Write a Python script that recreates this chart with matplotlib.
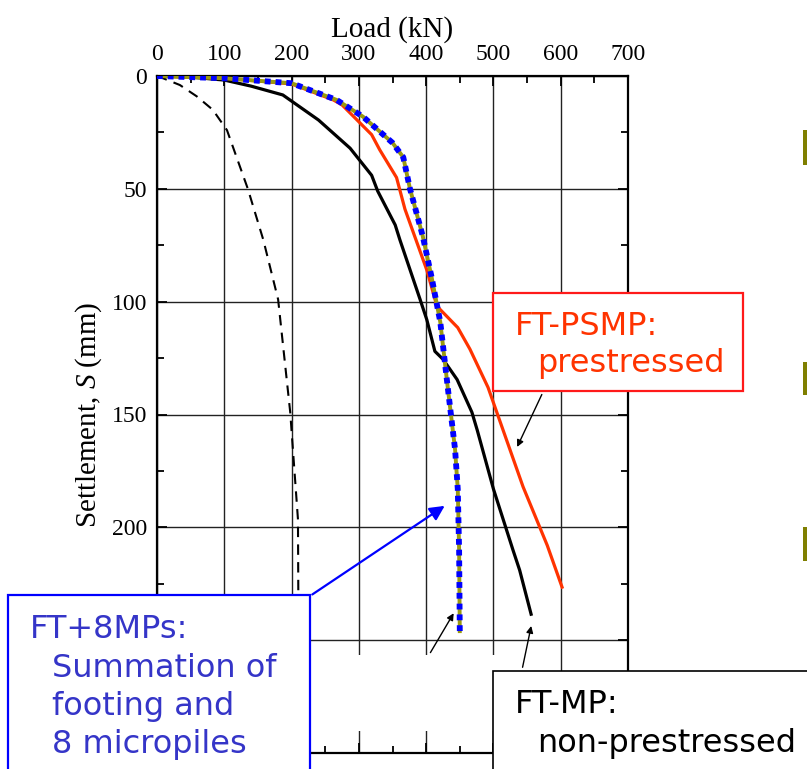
import matplotlib
matplotlib.use("Agg")
import matplotlib.pyplot as plt
from matplotlib.patches import Rectangle

plt.rcParams['font.family'] = ['Liberation Serif', 'DejaVu Serif']
plt.rcParams['mathtext.fontset'] = 'custom'
plt.rcParams['mathtext.rm'] = 'Liberation Serif'
plt.rcParams['mathtext.it'] = 'Liberation Serif:italic'

# ---- data (Load kN, Settlement mm) ----
load_ft_mp = [0, 50, 100, 140, 187, 240, 287, 319, 328, 354, 361, 391, 401, 413, 425, 446, 468, 476, 500, 529, 539, 556]
settle_ft_mp = [0, 0.5, 1.8, 4.5, 8.4, 19.5, 32, 44, 51, 66, 72.6, 99, 108, 122, 125.5, 134.5, 149, 157, 183, 210, 219, 238.5]

load_ft_psmp = [0, 100, 200, 262, 275, 319, 331, 356, 368.5, 401, 416, 447, 465, 492, 544, 580, 602]
settle_ft_psmp = [0, 1, 3.5, 10.6, 12.8, 26, 32.7, 45, 59, 86, 102, 111.5, 121, 138, 182, 208, 226.5]

load_ft_8mps = [0, 100, 200, 267, 306, 350, 366, 376, 395, 408, 421, 432.5, 443, 447, 449, 450]
settle_ft_8mps = [0, 1, 3.2, 10.6, 18, 29.6, 36, 50, 71, 89, 109, 139, 165.5, 183, 210, 246]

load_ft = [0, 9, 34, 59, 83, 104, 135, 158, 180, 198, 209.5, 210]
settle_ft = [0, 1, 4, 9, 15, 24, 50, 72.6, 99, 149, 196.5, 228]

x_ticks = [0, 100, 200, 300, 400, 500, 600, 700]
y_ticks = [0, 50, 100, 150, 200, 250, 300]
y_tick_labels = ['0', '50', '100', '150', '200', '', '']  # 250 and 300 hidden behind the box

W, H = 807, 769
fig = plt.figure(figsize=(W / 100, H / 100), dpi=100)

def fx(px):
    return px / W

def fy(py):
    return 1 - py / H

ax = fig.add_axes([fx(157), fy(753), fx(628) - fx(157), fy(76) - fy(753)])

ax.plot(load_ft, settle_ft, color='black', lw=1.5, linestyle=(0, (5, 3.5)), zorder=3)
ax.plot(load_ft_mp, settle_ft_mp, color='black', lw=2.3, zorder=4)
ax.plot(load_ft_psmp, settle_ft_psmp, color='#ff3300', lw=2.3, zorder=5)
ax.plot(load_ft_8mps, settle_ft_8mps, color='#9a9a10', lw=2.8, zorder=6)
ax.plot(load_ft_8mps, settle_ft_8mps, color='#0000ff', lw=4.2, linestyle=(0, (1.0, 0.85)),
        solid_capstyle='butt', dash_capstyle='butt', zorder=7)

ax.set_xlim(0, 700)
ax.set_ylim(300, 0)
ax.set_xticks(x_ticks)
ax.set_yticks(y_ticks)
ax.set_yticklabels(y_tick_labels)
ax.set_xticks(range(50, 700, 100), minor=True)
ax.set_yticks(range(25, 300, 50), minor=True)
ax.xaxis.tick_top()
ax.xaxis.set_label_position('top')
ax.tick_params(which='both', direction='in', top=True, bottom=True, left=True, right=True,
               labeltop=True, labelbottom=False, labelsize=17, width=1.3)
ax.tick_params(which='major', length=7, pad=8)
ax.tick_params(which='minor', length=5)
ax.tick_params(axis='y', which='major', pad=7)
ax.grid(True, which='major', color='#222222', lw=1.0)
ax.set_axisbelow(True)
for s in ax.spines.values():
    s.set_linewidth(1.6)

ax.set_xlabel('Load (kN)', fontsize=21, labelpad=5)
ax.set_ylabel(r'Settlement, $S$ (mm)', fontsize=21, labelpad=6)

# white patch hiding grid in lower area
ax.add_patch(Rectangle((0, 256.6), 520, 33.6, facecolor='white', edgecolor='none', zorder=1.5))

# arrows
ax.annotate('', xy=(533.5, 165.5), xytext=(fx(543), fy(392)), textcoords='figure fraction',
            arrowprops=dict(arrowstyle='-|>', color='black', lw=1.0, mutation_scale=10),
            annotation_clip=False, zorder=8)
ax.annotate('', xy=(431, 189.8), xytext=(fx(310), fy(596)), textcoords='figure fraction',
            arrowprops=dict(arrowstyle='-|>', color='#0000ff', lw=1.6, mutation_scale=22),
            annotation_clip=False, zorder=8)
ax.annotate('', xy=(443, 237), xytext=(fx(429), fy(655)), textcoords='figure fraction',
            arrowprops=dict(arrowstyle='-|>', color='black', lw=1.0, mutation_scale=10),
            annotation_clip=False, zorder=8)
ax.annotate('', xy=(557, 242.5), xytext=(fx(522), fy(670)), textcoords='figure fraction',
            arrowprops=dict(arrowstyle='-|>', color='black', lw=1.0, mutation_scale=10),
            annotation_clip=False, zorder=8)

# annotation boxes
def box(x0, y0, x1, y1, ec, lw):
    fig.add_artist(Rectangle((fx(x0), fy(y1)), fx(x1) - fx(x0), fy(y0) - fy(y1),
                             transform=fig.transFigure, facecolor='white', edgecolor=ec,
                             lw=lw, zorder=5))

def label(x, y, s, color):
    fig.text(fx(x), fy(y), s, color=color, fontsize=23, family=['DejaVu Sans'],
             ha='left', va='baseline', zorder=6)

box(493, 293, 743, 391, '#ff1a1a', 1.6)
label(515, 335, 'FT-PSMP:', '#ff3300')
label(537, 372, 'prestressed', '#ff3300')

box(8, 595, 310, 800, '#0000ff', 1.6)
label(30, 638, 'FT+8MPs:', '#3535c8')
label(52, 677, 'Summation of', '#3535c8')
label(52, 715, 'footing and', '#3535c8')
label(52, 753, '8 micropiles', '#3535c8')

box(493, 671, 830, 800, 'black', 1.2)
label(515, 713, 'FT-MP:', 'black')
label(537, 752, 'non-prestressed', 'black')

# olive bullet marks at right edge (cut off)
for y0, y1 in [(130, 165), (362, 395), (527, 561)]:
    fig.add_artist(Rectangle((fx(803), fy(y1)), fx(815) - fx(803), fy(y0) - fy(y1),
                             transform=fig.transFigure, facecolor='#7f7f00', edgecolor='none', zorder=5))

fig.savefig('out.png', dpi=100)
